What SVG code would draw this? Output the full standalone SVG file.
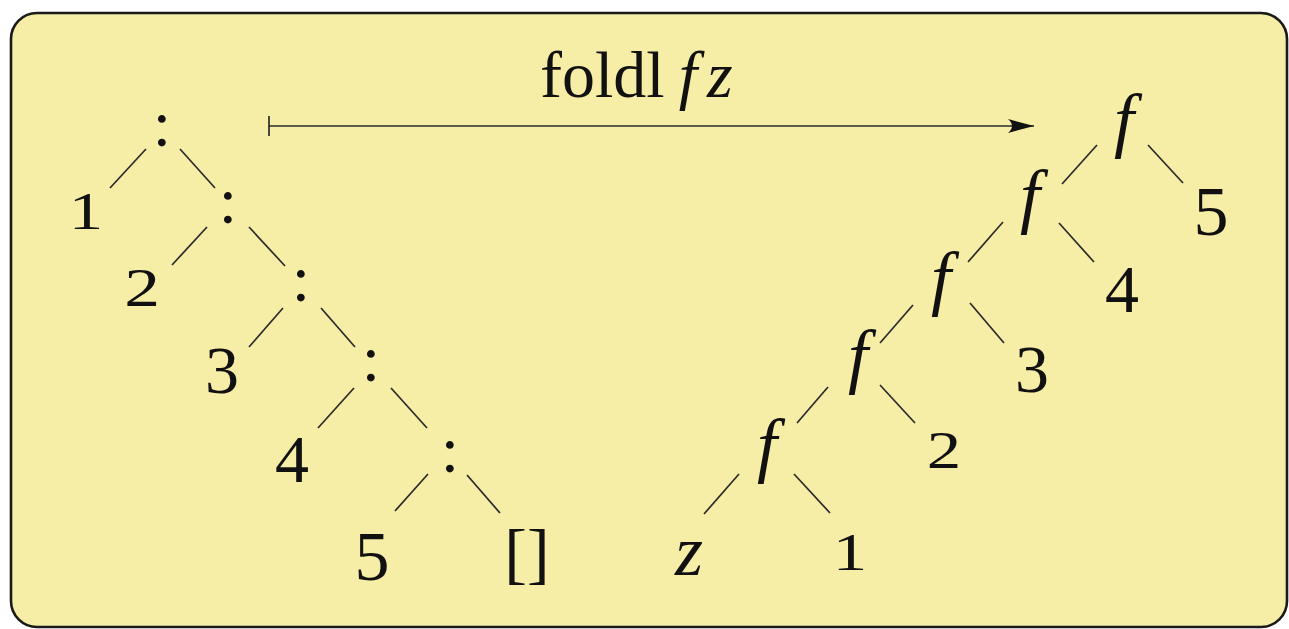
<svg xmlns="http://www.w3.org/2000/svg" width="1289" height="629" viewBox="0 0 1289 629">
<defs>
<style>
.t{font-family:"Liberation Serif","Times New Roman",serif;fill:#111;text-anchor:middle}
.i{font-style:italic}
.e{stroke:#2a2a2a;stroke-width:1.7;fill:none}
</style>
<marker id="ah" markerWidth="30" markerHeight="18" refX="28" refY="9" orient="auto" markerUnits="userSpaceOnUse">
<path d="M2,2 L28,9 L2,16 Q10,9 2,2 Z" fill="#111"/>
</marker>
</defs>
<rect x="11" y="13" width="1276" height="614" rx="26" ry="26" fill="#f6eea7" stroke="#1a1a1a" stroke-width="2.6"/>

<g id="connectors">
<line class="e" x1="269" y1="126" x2="1034" y2="126" marker-end="url(#ah)"/>
<line class="e" x1="269" y1="116" x2="269" y2="136"/>
<!-- left tree -->
<line class="e" x1="146" y1="149" x2="110" y2="188"/>
<line class="e" x1="180" y1="149" x2="215" y2="188"/>
<line class="e" x1="207" y1="227" x2="172" y2="265"/>
<line class="e" x1="249" y1="227" x2="285" y2="266"/>
<line class="e" x1="283" y1="308" x2="249" y2="347"/>
<line class="e" x1="321" y1="308" x2="355" y2="347"/>
<line class="e" x1="354" y1="388" x2="318" y2="428"/>
<line class="e" x1="391" y1="388" x2="427" y2="428"/>
<line class="e" x1="428" y1="474" x2="395" y2="511"/>
<line class="e" x1="467" y1="475" x2="500" y2="513"/>
<!-- right tree -->
<line class="e" x1="1097" y1="145" x2="1062" y2="184"/>
<line class="e" x1="1148" y1="145" x2="1183" y2="183"/>
<line class="e" x1="1003" y1="222" x2="968" y2="262"/>
<line class="e" x1="1059" y1="223" x2="1094" y2="262"/>
<line class="e" x1="913" y1="305" x2="880" y2="343"/>
<line class="e" x1="970" y1="303" x2="1004" y2="343"/>
<line class="e" x1="828" y1="387" x2="797" y2="423"/>
<line class="e" x1="880" y1="385" x2="915" y2="423"/>
<line class="e" x1="739" y1="474" x2="704" y2="514"/>
<line class="e" x1="794" y1="474" x2="830" y2="513"/>
</g>

<g id="title"><text class="t" x="540" y="97" font-size="66" style="text-anchor:start">foldl<tspan class="i" dx="14">f</tspan><tspan class="i" dx="10">z</tspan></text></g>

<g id="c1"><text class="t" x="162" y="146" font-size="66">:</text></g>
<g id="c2"><text class="t" x="228" y="223" font-size="66">:</text></g>
<g id="c3"><text class="t" x="301" y="301" font-size="66">:</text></g>
<g id="c4"><text class="t" x="371" y="381" font-size="66">:</text></g>
<g id="c5"><text class="t" x="450" y="472" font-size="66">:</text></g>

<g id="l1"><text class="t" font-size="53" transform="translate(86,229) scale(1.3,1)">1</text></g>
<g id="l2"><text class="t" font-size="55" transform="translate(142,306) scale(1.3,1)">2</text></g>
<g id="l3"><text class="t" x="222" y="393" font-size="68">3</text></g>
<g id="l4"><text class="t" x="292" y="482" font-size="68">4</text></g>
<g id="l5"><text class="t" x="372" y="580" font-size="70">5</text></g>
<g id="nil"><text class="t" x="527" y="576" font-size="68">[]</text></g>

<g id="f1"><text class="t i" x="1124" y="144" font-size="72">f</text></g>
<g id="f2"><text class="t i" x="1030" y="220" font-size="72">f</text></g>
<g id="f3"><text class="t i" x="941" y="302" font-size="72">f</text></g>
<g id="f4"><text class="t i" x="858" y="380" font-size="72">f</text></g>
<g id="f5"><text class="t i" x="767" y="469" font-size="72">f</text></g>

<g id="r5"><text class="t" x="1211" y="235" font-size="70">5</text></g>
<g id="r4"><text class="t" x="1122" y="312" font-size="68">4</text></g>
<g id="r3"><text class="t" x="1032" y="392" font-size="68">3</text></g>
<g id="r2"><text class="t" font-size="53" transform="translate(944,468) scale(1.3,1)">2</text></g>
<g id="r1"><text class="t" font-size="53" transform="translate(850,570) scale(1.3,1)">1</text></g>
<g id="z"><text class="t i" x="689" y="575" font-size="72">z</text></g>
</svg>
